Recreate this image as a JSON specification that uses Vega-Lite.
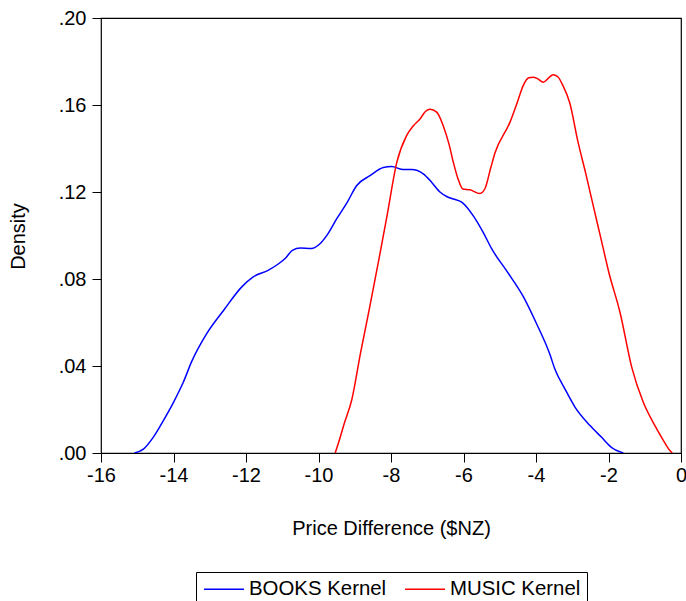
{
  "$schema": "https://vega.github.io/schema/vega-lite/v6.json",
  "autosize": "none",
  "width": 580,
  "height": 435,
  "padding": {"left": 101, "top": 18, "right": 5, "bottom": 148},
  "background": "white",
  "config": {
    "view": {"stroke": "black", "strokeWidth": 1.2},
    "font": "Liberation Sans",
    "axis": {"grid": false, "domain": false, "tickColor": "black", "tickSize": 9, "labelFont": "Liberation Sans", "titleFont": "Liberation Sans", "labelFontSize": 20, "titleFontSize": 20, "labelColor": "black", "titleColor": "black", "titleFontWeight": "normal"}
  },
  "datasets": {
    "kern": [
      {"series": "BOOKS Kernel", "x": -15.08, "y": 0},
      {"series": "BOOKS Kernel", "x": -14.83, "y": 0.0018},
      {"series": "BOOKS Kernel", "x": -14.56, "y": 0.0072},
      {"series": "BOOKS Kernel", "x": -14.28, "y": 0.0149},
      {"series": "BOOKS Kernel", "x": -14.0, "y": 0.0233},
      {"series": "BOOKS Kernel", "x": -13.73, "y": 0.0325},
      {"series": "BOOKS Kernel", "x": -13.5, "y": 0.042},
      {"series": "BOOKS Kernel", "x": -13.08, "y": 0.055},
      {"series": "BOOKS Kernel", "x": -12.6, "y": 0.066},
      {"series": "BOOKS Kernel", "x": -12.11, "y": 0.0765},
      {"series": "BOOKS Kernel", "x": -11.8, "y": 0.081},
      {"series": "BOOKS Kernel", "x": -11.39, "y": 0.084},
      {"series": "BOOKS Kernel", "x": -11.1, "y": 0.087},
      {"series": "BOOKS Kernel", "x": -10.9, "y": 0.0898},
      {"series": "BOOKS Kernel", "x": -10.72, "y": 0.0932},
      {"series": "BOOKS Kernel", "x": -10.5, "y": 0.0942},
      {"series": "BOOKS Kernel", "x": -10.2, "y": 0.094},
      {"series": "BOOKS Kernel", "x": -9.96, "y": 0.0962},
      {"series": "BOOKS Kernel", "x": -9.75, "y": 0.1005},
      {"series": "BOOKS Kernel", "x": -9.5, "y": 0.1076},
      {"series": "BOOKS Kernel", "x": -9.2, "y": 0.1155},
      {"series": "BOOKS Kernel", "x": -8.95, "y": 0.1229},
      {"series": "BOOKS Kernel", "x": -8.58, "y": 0.1275},
      {"series": "BOOKS Kernel", "x": -8.21, "y": 0.1313},
      {"series": "BOOKS Kernel", "x": -7.98, "y": 0.1317},
      {"series": "BOOKS Kernel", "x": -7.66, "y": 0.1303},
      {"series": "BOOKS Kernel", "x": -7.43, "y": 0.1303},
      {"series": "BOOKS Kernel", "x": -7.11, "y": 0.1283},
      {"series": "BOOKS Kernel", "x": -6.88, "y": 0.1245},
      {"series": "BOOKS Kernel", "x": -6.65, "y": 0.12},
      {"series": "BOOKS Kernel", "x": -6.45, "y": 0.1178},
      {"series": "BOOKS Kernel", "x": -6.28, "y": 0.1168},
      {"series": "BOOKS Kernel", "x": -6.05, "y": 0.1153},
      {"series": "BOOKS Kernel", "x": -5.73, "y": 0.109},
      {"series": "BOOKS Kernel", "x": -5.45, "y": 0.1012},
      {"series": "BOOKS Kernel", "x": -5.22, "y": 0.0938},
      {"series": "BOOKS Kernel", "x": -4.8, "y": 0.0835},
      {"series": "BOOKS Kernel", "x": -4.35, "y": 0.0719},
      {"series": "BOOKS Kernel", "x": -4.0, "y": 0.06},
      {"series": "BOOKS Kernel", "x": -3.62, "y": 0.0455},
      {"series": "BOOKS Kernel", "x": -3.48, "y": 0.0386},
      {"series": "BOOKS Kernel", "x": -3.2, "y": 0.0294},
      {"series": "BOOKS Kernel", "x": -2.92, "y": 0.021},
      {"series": "BOOKS Kernel", "x": -2.51, "y": 0.0126},
      {"series": "BOOKS Kernel", "x": -2.19, "y": 0.0072},
      {"series": "BOOKS Kernel", "x": -1.91, "y": 0.0025},
      {"series": "BOOKS Kernel", "x": -1.59, "y": 0},
      {"series": "MUSIC Kernel", "x": -9.54, "y": 0},
      {"series": "MUSIC Kernel", "x": -9.45, "y": 0.0046},
      {"series": "MUSIC Kernel", "x": -9.3, "y": 0.013},
      {"series": "MUSIC Kernel", "x": -9.08, "y": 0.0246},
      {"series": "MUSIC Kernel", "x": -8.84, "y": 0.046},
      {"series": "MUSIC Kernel", "x": -8.6, "y": 0.066},
      {"series": "MUSIC Kernel", "x": -8.35, "y": 0.0876},
      {"series": "MUSIC Kernel", "x": -8.11, "y": 0.109},
      {"series": "MUSIC Kernel", "x": -7.84, "y": 0.1336},
      {"series": "MUSIC Kernel", "x": -7.57, "y": 0.1459},
      {"series": "MUSIC Kernel", "x": -7.38, "y": 0.1505},
      {"series": "MUSIC Kernel", "x": -7.2, "y": 0.1536},
      {"series": "MUSIC Kernel", "x": -7.05, "y": 0.157},
      {"series": "MUSIC Kernel", "x": -6.92, "y": 0.158},
      {"series": "MUSIC Kernel", "x": -6.74, "y": 0.1567},
      {"series": "MUSIC Kernel", "x": -6.56, "y": 0.1505},
      {"series": "MUSIC Kernel", "x": -6.4, "y": 0.142},
      {"series": "MUSIC Kernel", "x": -6.28, "y": 0.1336},
      {"series": "MUSIC Kernel", "x": -6.15, "y": 0.126},
      {"series": "MUSIC Kernel", "x": -6.02, "y": 0.1214},
      {"series": "MUSIC Kernel", "x": -5.82, "y": 0.121},
      {"series": "MUSIC Kernel", "x": -5.55, "y": 0.1193},
      {"series": "MUSIC Kernel", "x": -5.41, "y": 0.1215},
      {"series": "MUSIC Kernel", "x": -5.25, "y": 0.131},
      {"series": "MUSIC Kernel", "x": -5.13, "y": 0.138},
      {"series": "MUSIC Kernel", "x": -4.72, "y": 0.152},
      {"series": "MUSIC Kernel", "x": -4.5, "y": 0.162},
      {"series": "MUSIC Kernel", "x": -4.35, "y": 0.169},
      {"series": "MUSIC Kernel", "x": -4.2, "y": 0.1725},
      {"series": "MUSIC Kernel", "x": -4.08, "y": 0.1728},
      {"series": "MUSIC Kernel", "x": -3.95, "y": 0.172},
      {"series": "MUSIC Kernel", "x": -3.8, "y": 0.1705},
      {"series": "MUSIC Kernel", "x": -3.65, "y": 0.1725},
      {"series": "MUSIC Kernel", "x": -3.53, "y": 0.1739},
      {"series": "MUSIC Kernel", "x": -3.4, "y": 0.173},
      {"series": "MUSIC Kernel", "x": -3.26, "y": 0.169},
      {"series": "MUSIC Kernel", "x": -3.07, "y": 0.161},
      {"series": "MUSIC Kernel", "x": -2.84, "y": 0.1429},
      {"series": "MUSIC Kernel", "x": -2.62, "y": 0.128},
      {"series": "MUSIC Kernel", "x": -2.42, "y": 0.1136},
      {"series": "MUSIC Kernel", "x": -2.2, "y": 0.098},
      {"series": "MUSIC Kernel", "x": -1.99, "y": 0.083},
      {"series": "MUSIC Kernel", "x": -1.68, "y": 0.0645},
      {"series": "MUSIC Kernel", "x": -1.36, "y": 0.0395},
      {"series": "MUSIC Kernel", "x": -1.04, "y": 0.0233},
      {"series": "MUSIC Kernel", "x": -0.72, "y": 0.0126},
      {"series": "MUSIC Kernel", "x": -0.5, "y": 0.0062},
      {"series": "MUSIC Kernel", "x": -0.3, "y": 0.001},
      {"series": "MUSIC Kernel", "x": -0.24, "y": 0}
    ]
  },
  "data": {"name": "kern"},
  "mark": {"type": "line", "strokeWidth": 1.5, "interpolate": "monotone", "clip": true},
  "encoding": {
    "x": {
      "field": "x", "type": "quantitative",
      "scale": {"domain": [-16, 0], "nice": false, "zero": false},
      "axis": {"values": [-16, -14, -12, -10, -8, -6, -4, -2, 0], "labelExpr": "'' + datum.value", "labelPadding": 3, "title": "Price Difference ($NZ)", "titleX": 290, "titleY": 75, "titleBaseline": "middle", "labelFlush": false}
    },
    "y": {
      "field": "y", "type": "quantitative",
      "scale": {"domain": [0, 0.2], "nice": false},
      "axis": {"values": [0, 0.04, 0.08, 0.12, 0.16, 0.2], "labelExpr": "replace(format(datum.value, '.2f'), '0.', '.')", "labelPadding": 6, "title": "Density", "titleX": -83, "titleY": 218, "titleAngle": -90, "titleBaseline": "middle", "titleAlign": "center", "labelFlush": false}
    },
    "color": {
      "field": "series", "type": "nominal",
      "scale": {"domain": ["BOOKS Kernel", "MUSIC Kernel"], "range": ["#0000FF", "#FF0000"]},
      "legend": {
        "title": null, "orient": "none", "direction": "horizontal",
        "legendX": 95, "legendY": 554,
        "strokeColor": "black", "padding": 6,
        "symbolType": "M-2,0L2,0", "symbolSize": 400, "symbolStrokeWidth": 1.5,
        "symbolOffset": 11,
        "labelFontSize": 20.4, "labelFont": "Liberation Sans", "labelColor": "black",
        "labelOffset": 14, "columnPadding": 15
      }
    }
  }
}
